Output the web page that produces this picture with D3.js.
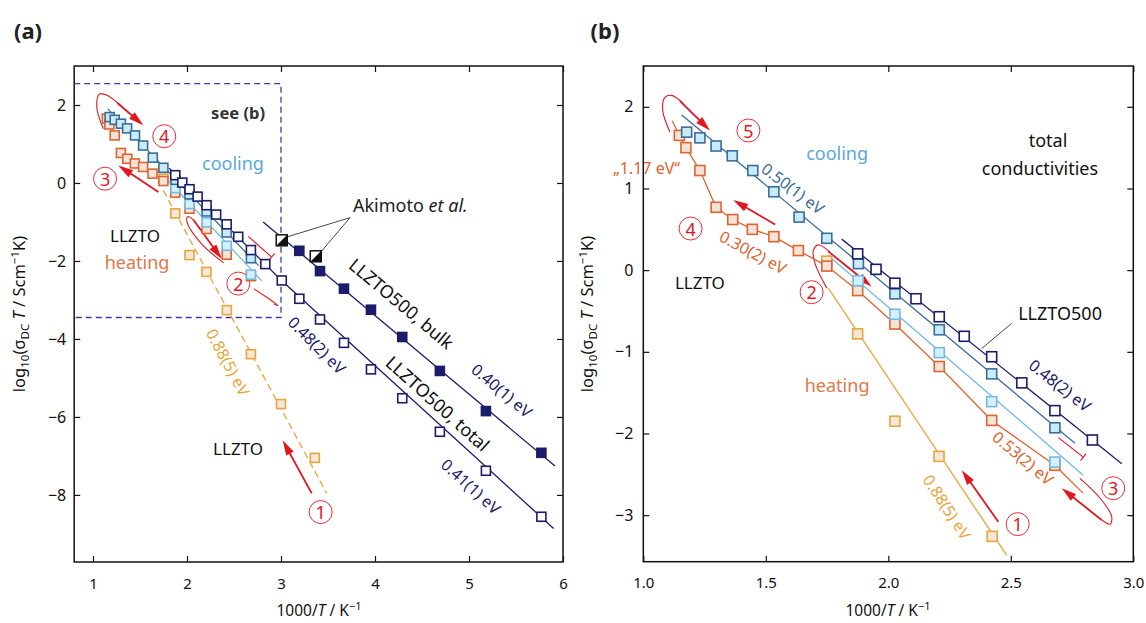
<!DOCTYPE html>
<html>
<head>
<meta charset="utf-8">
<script src="https://cdn.jsdelivr.net/npm/d3@7"></script>
<style>
body { margin: 0; background: #fff; }
text { font-family: "Noto Sans", "Open Sans", sans-serif; }
.tick text { font-family: "Noto Sans", "Open Sans", sans-serif; fill: #111; }
.xax .tick text { font-size: 15px; }
.yax .tick text { font-size: 16px; }
</style>
</head>
<body>
<svg id="fig" width="1146" height="623"></svg>
<script>
// ---- data (x = 1000/T in 1/K, y = log10(sigma T)) ----
// LLZTO, first heating (1)
var heat1X = [1.749, 1.875, 2.027, 2.207, 2.424, 2.68, 3.0, 3.36];
var heat1Y = [0.11, -0.78, -1.85, -2.28, -3.26, -4.39, -5.67, -7.05];
// LLZTO, second heating (3 -> 4)
var heat2X = [1.147, 1.174, 1.231, 1.297, 1.365, 1.445, 1.533, 1.633, 1.749, 1.875, 2.027, 2.208, 2.422, 2.68];
var heat2Y = [1.65, 1.50, 1.22, 0.77, 0.62, 0.50, 0.41, 0.24, 0.05, -0.25, -0.66, -1.18, -1.84, -2.39];
// LLZTO, cooling after step 2 (light blue)
var cool1X = [1.877, 2.027, 2.208, 2.422, 2.68];
var cool1Y = [-0.13, -0.54, -1.01, -1.61, -2.35];
// LLZTO, cooling 5 (steel blue)
var cool2X = [1.177, 1.231, 1.297, 1.363, 1.447, 1.533, 1.636, 1.749, 1.878, 2.027, 2.208, 2.422, 2.68];
var cool2Y = [1.69, 1.62, 1.52, 1.40, 1.22, 0.96, 0.65, 0.39, 0.08, -0.29, -0.73, -1.27, -1.93];
// LLZTO500, total
var totX = [1.875, 1.95, 2.027, 2.113, 2.208, 2.31, 2.422, 2.545, 2.68, 2.833, 3.008, 3.195, 3.415, 3.67, 3.957, 4.29, 4.69, 5.18, 5.77];
var totY = [0.20, 0.01, -0.16, -0.35, -0.57, -0.81, -1.06, -1.38, -1.72, -2.08, -2.50, -2.97, -3.50, -4.10, -4.78, -5.52, -6.38, -7.38, -8.56];
// LLZTO500, bulk
var bulkX = [3.195, 3.415, 3.67, 3.957, 4.29, 4.69, 5.18, 5.77];
var bulkY = [-1.74, -2.26, -2.71, -3.25, -3.95, -4.82, -5.85, -6.92];
// Akimoto et al.
var akiX = [3.008, 3.37];
var akiY = [-1.47, -1.88];

// fitted / guide lines [x, y]
var fitHeat1A = [[1.748, -0.19], [3.486, -7.96]];
var fitHeat1B = [[1.755, -0.22], [2.483, -3.49]];
var fitHeat2 = [[1.118, 1.83]].concat(heat2X.map(function (d, i) { return [d, heat2Y[i]]; })).concat([[2.795, -2.73]]);
var fitCool1 = [[1.755, 0.18], [2.796, -2.51]];
var fitCool2 = [[1.157, 1.90], [2.762, -2.12]];
var fitTotA = [[1.81, 0.38], [3.0, -2.49], [5.90, -8.86]];
var fitTotB = [[1.81, 0.38], [2.953, -2.37]];
var fitBulk = [[2.81, -1.0], [5.915, -7.26]];

// tick values
var xTicksA = [1, 2, 3, 4, 5, 6];
var yTicksA = [-8, -6, -4, -2, 0, 2];
var xTicksB = [1.0, 1.5, 2.0, 2.5, 3.0];
var yTicksB = [-3, -2, -1, 0, 1, 2];

var C = {
  navy: "#1b1d6b", steel: "#3b6d9a", steelFill: "#c9ecf8",
  light: "#74b9e6", lightFill: "#d4f1fb", coral: "#dd6430", coralFill: "#f4e4d7",
  orange: "#e9a53a", orangeFill: "#f3e7da", red: "#e3151f"
};

var svg = d3.select("#fig");

var xa = d3.scaleLinear().domain([0.8, 6]).range([74.2, 563]);
var ya = d3.scaleLinear().domain([-9.72, 3.0]).range([562, 66]);
var xb = d3.scaleLinear().domain([1, 3]).range([643.3, 1133.3]);
var yb = d3.scaleLinear().domain([-3.57, 2.5]).range([561.7, 66]);

function frame(g, x, y, xt, yt, xfmt, padL) {
  var r = x.range(), h = y.range();
  var ax = function (gen, tx, ty, cls) {
    var a = g.append("g").attr("class", cls).attr("transform", "translate(" + tx + "," + ty + ")").call(gen);
    a.select(".domain").remove();
    a.selectAll(".tick line").attr("stroke", "#111").attr("stroke-width", 1.2);
    a.attr("font-family", null).attr("font-size", null);
    return a;
  };
  ax(d3.axisBottom(x).tickValues(xt).tickFormat(xfmt).tickSize(-6).tickPadding(16), 0, h[0], "xax");
  ax(d3.axisTop(x).tickValues(xt).tickFormat(function () { return ""; }).tickSize(-6), 0, h[1], "xax");
  ax(d3.axisLeft(y).tickValues(yt).tickFormat(d3.format("d")).tickSize(-6).tickPadding(padL), r[0], 0, "yax");
  ax(d3.axisRight(y).tickValues(yt).tickFormat(function () { return ""; }).tickSize(-6), r[1], 0, "yax");
  g.append("rect").attr("x", r[0]).attr("y", h[1]).attr("width", r[1] - r[0]).attr("height", h[0] - h[1])
    .attr("fill", "none").attr("stroke", "#111").attr("stroke-width", 1.5);
}

function clip(id, x, y) {
  svg.append("clipPath").attr("id", id).append("rect")
    .attr("x", x.range()[0]).attr("y", y.range()[1])
    .attr("width", x.range()[1] - x.range()[0]).attr("height", y.range()[0] - y.range()[1]);
  return svg.append("g").attr("clip-path", "url(#" + id + ")");
}

function fit(g, x, y, pts, color, dash) {
  g.append("path").datum(pts)
    .attr("d", d3.line().x(function (d) { return x(d[0]); }).y(function (d) { return y(d[1]); }))
    .attr("fill", "none").attr("stroke", color).attr("stroke-width", 1.3)
    .attr("stroke-dasharray", dash || null);
}

function squares(g, x, y, xs, ys, stroke, fill, s) {
  s = s || 9;
  var xd = x.domain(), yd = y.domain();
  var idx = xs.map(function (d, i) { return i; }).filter(function (i) {
    return xs[i] >= xd[0] && xs[i] <= xd[1] && ys[i] >= yd[0] && ys[i] <= yd[1];
  });
  g.append("g").selectAll("rect").data(idx).enter().append("rect")
    .attr("x", function (i) { return x(xs[i]) - s / 2; })
    .attr("y", function (i) { return y(ys[i]) - s / 2; })
    .attr("width", s).attr("height", s)
    .attr("fill", fill).attr("stroke", stroke).attr("stroke-width", 1.6);
}

function label(g, x, y, px, py, str, o) {
  o = o || {};
  var t = g.append("text")
    .attr("transform", "translate(" + x(px) + "," + y(py) + ") rotate(" + (o.rot || 0) + ")")
    .attr("text-anchor", o.anchor || "middle").attr("dominant-baseline", "central")
    .attr("font-size", (o.size || 18) + "px").attr("fill", o.color || "#111")
    .attr("font-weight", o.bold ? "bold" : null)
    .text(str);
  return t;
}

function arrow(g, x, y, a) {
  var x0 = x(a[0]), y0 = y(a[1]), x1 = x(a[2]), y1 = y(a[3]);
  var dx = x1 - x0, dy = y1 - y0, L = Math.hypot(dx, dy), ux = dx / L, uy = dy / L;
  var hl = 15, hw = 4.2, bx = x1 - ux * hl, by = y1 - uy * hl;
  g.append("line").attr("x1", x0).attr("y1", y0).attr("x2", bx + ux * 2).attr("y2", by + uy * 2)
    .attr("stroke", C.red).attr("stroke-width", 1.8);
  g.append("path").attr("d", "M" + x1 + "," + y1 + "L" + (bx - uy * hw) + "," + (by + ux * hw) +
    "L" + (bx + uy * hw) + "," + (by - ux * hw) + "Z").attr("fill", C.red);
}

function loop(g, x, y, pts) {
  g.append("path").datum(pts)
    .attr("d", d3.line().curve(d3.curveCatmullRom).x(function (d) { return x(d[0]); }).y(function (d) { return y(d[1]); }))
    .attr("fill", "none").attr("stroke", C.red).attr("stroke-width", 1.1);
}

function tbar(g, x, y, a) {
  var x0 = x(a[0]), y0 = y(a[1]), x1 = x(a[2]), y1 = y(a[3]);
  var dx = x1 - x0, dy = y1 - y0, L = Math.hypot(dx, dy), ux = dx / L, uy = dy / L;
  g.append("line").attr("x1", x0).attr("y1", y0).attr("x2", x1).attr("y2", y1).attr("stroke", C.red).attr("stroke-width", 1.1);
  g.append("line").attr("x1", x1 - uy * 4.5).attr("y1", y1 + ux * 4.5).attr("x2", x1 + uy * 4.5).attr("y2", y1 - ux * 4.5)
    .attr("stroke", C.red).attr("stroke-width", 1.1);
}

function circ(g, x, y, px, py, n) {
  g.append("circle").attr("cx", x(px)).attr("cy", y(py)).attr("r", 11.5)
    .attr("fill", "none").attr("stroke", C.red).attr("stroke-width", 0.9);
  g.append("text").attr("x", x(px)).attr("y", y(py)).attr("text-anchor", "middle").attr("dominant-baseline", "central")
    .attr("font-size", "18px").attr("fill", C.red).text(n);
}

function yTitle(cx, cy) {
  var t = svg.append("text").attr("transform", "translate(" + cx + "," + cy + ") rotate(-90)")
    .attr("text-anchor", "middle").attr("font-size", "16.5px").attr("fill", "#111");
  t.append("tspan").text("log");
  t.append("tspan").attr("font-size", "11.5px").attr("dy", 4).text("10");
  t.append("tspan").attr("dy", -4).text("(σ");
  t.append("tspan").attr("font-size", "11.5px").attr("dy", 4).text("DC");
  t.append("tspan").attr("dy", -4).attr("font-style", "italic").text(" T");
  t.append("tspan").text(" / Scm");
  t.append("tspan").attr("font-size", "11.5px").attr("dy", -6).text("−1");
  t.append("tspan").attr("dy", 6).text("K)");
}

function xTitle(cx, cy) {
  var t = svg.append("text").attr("x", cx).attr("y", cy).attr("text-anchor", "middle")
    .attr("font-size", "15.5px").attr("fill", "#111");
  t.append("tspan").text("1000/");
  t.append("tspan").attr("font-style", "italic").text("T");
  t.append("tspan").text(" / K");
  t.append("tspan").attr("font-size", "11px").attr("dy", -6).text("−1");
}

// ================= panel (a) =================
var ga = svg.append("g");
var pa = clip("clipA", xa, ya);

// dashed "see (b)" box
var box = [[0.8, 2.55], [3.0, 2.55], [3.0, -3.45], [0.8, -3.45]];
fit(pa, xa, ya, box, "#3c3ca0", "6,4");

fit(pa, xa, ya, fitHeat1A, C.orange, "7,4");
fit(pa, xa, ya, fitCool1, C.light);
fit(pa, xa, ya, fitCool2, C.steel);
fit(pa, xa, ya, fitTotA, C.navy);
fit(pa, xa, ya, fitBulk, C.navy);

squares(pa, xa, ya, heat1X, heat1Y, C.orange, C.orangeFill);
squares(pa, xa, ya, heat2X, heat2Y, C.coral, C.coralFill);
squares(pa, xa, ya, cool1X, cool1Y, C.light, C.lightFill);
squares(pa, xa, ya, cool2X, cool2Y, C.steel, C.steelFill);
squares(pa, xa, ya, totX, totY, C.navy, "#fff");
squares(pa, xa, ya, bulkX, bulkY, C.navy, C.navy);

// Akimoto et al. (half filled)
var aki = pa.append("g").selectAll("g").data(akiX).enter().append("g")
  .attr("transform", function (d, i) { return "translate(" + xa(d) + "," + ya(akiY[i]) + ")"; });
aki.append("rect").attr("x", -5.5).attr("y", -5.5).attr("width", 11).attr("height", 11).attr("fill", "#fff").attr("stroke", "#111").attr("stroke-width", 1.5);
aki.append("path").attr("d", "M5.5,-5.5L5.5,5.5L-5.5,5.5Z").attr("fill", "#111");
akiX.forEach(function (d, i) {
  ga.append("line").attr("x1", xa(3.734)).attr("y1", ya(-0.89)).attr("x2", xa(d) + 4).attr("y2", ya(akiY[i]) - 3)
    .attr("stroke", "#333").attr("stroke-width", 0.9);
});
var ak = ga.append("text").attr("x", xa(3.766)).attr("y", ya(-0.57)).attr("dominant-baseline", "central")
  .attr("font-size", "18px").attr("fill", "#222");
ak.append("tspan").text("Akimoto ");
ak.append("tspan").attr("font-style", "italic").text("et al.");

// annotations (a)
loop(ga, xa, ya, [[1.11, 1.39], [1.04, 1.95], [1.07, 2.28], [1.15, 2.25], [1.287, 2.0]]);
arrow(ga, xa, ya, [1.26, 2.05, 1.535, 1.48]);
circ(ga, xa, ya, 1.758, 1.20, "4");
circ(ga, xa, ya, 1.128, 0.11, "3");
arrow(ga, xa, ya, [1.695, -0.23, 1.269, 0.45]);
loop(ga, xa, ya, [[2.39, -2.05], [2.15, -1.55], [2.0, -1.0], [2.01, -0.86], [2.07, -0.95]]);
arrow(ga, xa, ya, [2.07, -0.95, 2.37, -1.95]);
loop(ga, xa, ya, [[2.71, -2.71], [2.86, -2.95], [2.97, -3.15], [2.93, -3.11]]);
circ(ga, xa, ya, 2.546, -2.58, "2");
tbar(ga, xa, ya, [2.652, -1.37, 2.90, -1.90]);
circ(ga, xa, ya, 3.422, -8.44, "1");
arrow(ga, xa, ya, [3.327, -7.96, 3.018, -6.60]);

label(ga, xa, ya, 2.543, 1.81, "see (b)", { size: 16.5, bold: true, color: "#333" });
label(ga, xa, ya, 2.489, 0.51, "cooling", { size: 18, color: "#5aa8dc" });
label(ga, xa, ya, 1.447, -1.34, "LLZTO", { size: 17 });
label(ga, xa, ya, 1.468, -2.03, "heating", { size: 18, color: "#e07848" });
label(ga, xa, ya, 2.543, -6.80, "LLZTO", { size: 17 });
label(ga, xa, ya, 2.436, -4.60, "0.88(5) eV", { size: 16, color: C.orange, rot: 62 });
label(ga, xa, ya, 3.383, -4.16, "0.48(2) eV", { size: 16, color: C.navy, rot: 45 });
label(ga, xa, ya, 4.285, -3.09, "LLZTO500, bulk", { size: 18, rot: 40 });
label(ga, xa, ya, 5.349, -5.32, "0.40(1) eV", { size: 16, color: C.navy, rot: 40 });
label(ga, xa, ya, 4.67, -5.65, "LLZTO500, total", { size: 18, rot: 42 });
label(ga, xa, ya, 5.021, -7.78, "0.41(1) eV", { size: 16, color: C.navy, rot: 42 });

frame(ga, xa, ya, xTicksA, yTicksA, d3.format("d"), 8);

// ================= panel (b) =================
var gb = svg.append("g");
var pb = clip("clipB", xb, yb);

fit(pb, xb, yb, fitHeat1B, C.orange);
fit(pb, xb, yb, fitHeat2, C.coral);
fit(pb, xb, yb, fitCool1, C.light);
fit(pb, xb, yb, fitCool2, C.steel);
fit(pb, xb, yb, fitTotB, C.navy);

squares(pb, xb, yb, heat1X, heat1Y, C.orange, C.orangeFill, 10);
squares(pb, xb, yb, heat2X, heat2Y, C.coral, C.coralFill, 10);
squares(pb, xb, yb, cool1X, cool1Y, C.light, C.lightFill, 10);
squares(pb, xb, yb, cool2X, cool2Y, C.steel, C.steelFill, 10);
squares(pb, xb, yb, totX, totY, C.navy, "#fff", 10);

// annotations (b)
loop(gb, xb, yb, [[1.109, 1.69], [1.079, 1.96], [1.089, 2.12], [1.116, 2.14], [1.163, 2.04]]);
arrow(gb, xb, yb, [1.15, 2.07, 1.272, 1.71]);
circ(gb, xb, yb, 1.429, 1.71, "5");
arrow(gb, xb, yb, [1.538, 0.56, 1.367, 0.86]);
circ(gb, xb, yb, 1.193, 0.51, "4");
loop(gb, xb, yb, [[1.749, -0.22], [1.701, 0.08], [1.694, 0.24], [1.714, 0.31], [1.762, 0.22]]);
arrow(gb, xb, yb, [1.755, 0.23, 1.932, -0.20]);
circ(gb, xb, yb, 1.687, -0.27, "2");
tbar(gb, xb, yb, [2.694, -2.05, 2.796, -2.29]);
loop(gb, xb, yb, [[2.782, -2.55], [2.864, -2.79], [2.912, -3.02], [2.905, -3.11], [2.871, -3.06]]);
arrow(gb, xb, yb, [2.871, -3.06, 2.708, -2.67]);
circ(gb, xb, yb, 2.918, -2.67, "3");
circ(gb, xb, yb, 2.528, -3.11, "1");
arrow(gb, xb, yb, [2.449, -3.08, 2.30, -2.45]);

gb.append("line").attr("x1", xb(2.504)).attr("y1", yb(-0.65)).attr("x2", xb(2.381)).attr("y2", yb(-0.96))
  .attr("stroke", "#333").attr("stroke-width", 0.9);

label(gb, xb, yb, 2.652, 1.59, "total", { size: 18 });
label(gb, xb, yb, 2.619, 1.25, "conductivities", { size: 18 });
label(gb, xb, yb, 1.791, 1.43, "cooling", { size: 18, color: "#5aa8dc" });
label(gb, xb, yb, 1.611, 1.00, "0.50(1) eV", { size: 16, color: C.steel, rot: 37 });
label(gb, xb, yb, 1.150, 1.25, "„1.17 eV“", { size: 16, color: C.coral, anchor: "end" });
label(gb, xb, yb, 1.448, 0.22, "0.30(2) eV", { size: 16, color: C.coral, rot: 28 });
label(gb, xb, yb, 1.231, -0.15, "LLZTO", { size: 17 });
label(gb, xb, yb, 1.791, -1.41, "heating", { size: 18, color: "#e07848" });
label(gb, xb, yb, 2.701, -0.53, "LLZTO500", { size: 18 });
label(gb, xb, yb, 2.701, -1.41, "0.48(2) eV", { size: 16, color: C.navy, rot: 38 });
label(gb, xb, yb, 2.550, -2.30, "0.53(2) eV", { size: 16, color: C.coral, rot: 40 });
label(gb, xb, yb, 2.240, -2.90, "0.88(5) eV", { size: 16, color: C.orange, rot: 57 });

frame(gb, xb, yb, xTicksB, yTicksB, d3.format(".1f"), 10);

// titles
yTitle(25, 314);
yTitle(593, 314);
xTitle(319, 616);
xTitle(888, 616);
svg.append("text").attr("x", 28).attr("y", 30).attr("text-anchor", "middle").attr("dominant-baseline", "central")
  .attr("font-size", "22px").attr("font-weight", "bold").attr("fill", "#222").text("(a)");
svg.append("text").attr("x", 605).attr("y", 30).attr("text-anchor", "middle").attr("dominant-baseline", "central")
  .attr("font-size", "22px").attr("font-weight", "bold").attr("fill", "#222").text("(b)");
</script>
</body>
</html>
